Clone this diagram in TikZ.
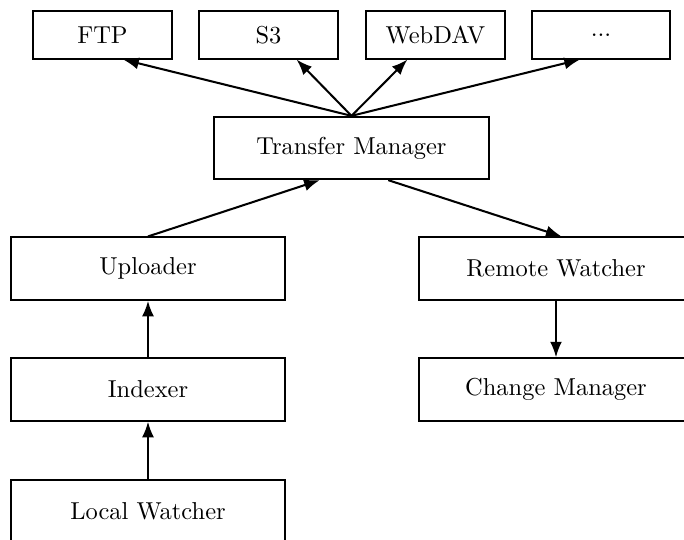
\documentclass[tikz,border=0pt]{standalone}
\usetikzlibrary{arrows.meta,calc}
\tikzset{
  box/.style={draw, line width=0.8pt, minimum width=114.4pt, minimum height=26pt, inner sep=0pt, font=\fontsize{10.2pt}{12pt}\selectfont},
  topbox/.style={draw, line width=0.8pt, minimum width=57.8pt, minimum height=19.9pt, inner sep=0pt, font=\fontsize{10.2pt}{12pt}\selectfont},
  conn/.style={line width=0.85pt, -{Latex[length=6.5pt,width=5pt]}}
}
\begin{document}
\begin{tikzpicture}[x=0.41667pt,y=-0.41667pt]
  \useasboundingbox (0,0) rectangle (684,539);
  \clip (0,0) rectangle (684,539);
  % top row
  \node[topbox] (ftp) at (102.5,34.7) {FTP};
  \node[topbox] (s3) at (268.5,34.7) {S3};
  \node[topbox] (webdav) at (435.5,34.7) {WebDAV};
  \node[topbox] (more) at (601,34.7) {...};
  % transfer manager
  \node[box] (tm) at (351.5,148) {Transfer Manager};
  % left column
  \node[box] (up) at (148,268.6) {Uploader};
  \node[box] (idx) at (148,389.5) {Indexer};
  \node[box] (lw) at (148,511.5) {Local Watcher};
  % right column
  \node[box] (rw) at (556,268.6) {Remote Watcher};
  \node[box] (cm) at (556,389.5) {Change Manager};
  % connectors
  \draw[conn] (tm.north) -- ($(ftp.south west)!0.647!(ftp.south east)$);
  \draw[conn] (tm.north) -- ($(s3.south west)!0.70!(s3.south east)$);
  \draw[conn] (tm.north) -- ($(webdav.south west)!0.30!(webdav.south east)$);
  \draw[conn] (tm.north) -- ($(more.south west)!0.35!(more.south east)$);
  \draw[conn] (up.north) -- ($(tm.south west)!0.385!(tm.south east)$);
  \draw[conn] ($(tm.south west)!0.633!(tm.south east)$) -- ($(rw.north west)!0.52!(rw.north east)$);
  \draw[conn] (idx.north) -- (up.south);
  \draw[conn] (lw.north) -- (idx.south);
  \draw[conn] (rw.south) -- (cm.north);
\end{tikzpicture}
\end{document}
